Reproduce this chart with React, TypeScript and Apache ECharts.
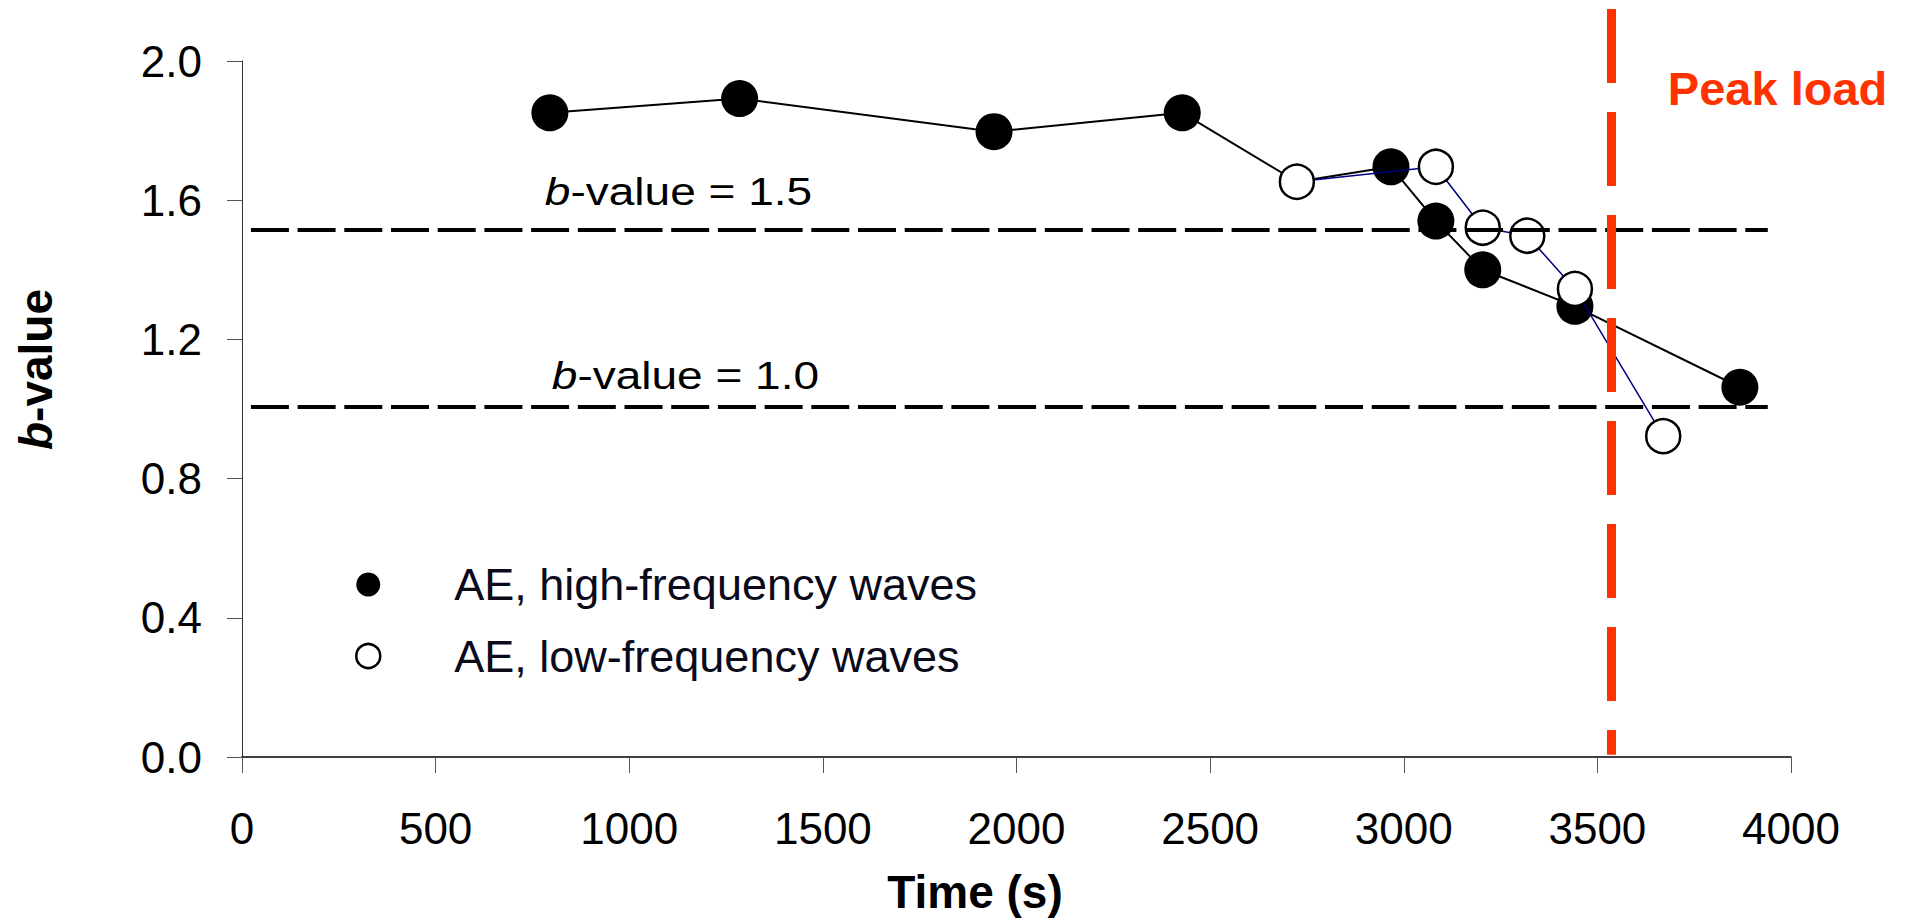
import React, { useEffect, useRef } from "react";
import * as echarts from "echarts";

// ---------- data ----------
const xMin = 0;
const xMax = 4000;
const xStep = 500;
const yMin = 0;
const yMax = 2.0;
const yStep = 0.4;

const seriesNames = ["AE, high-frequency waves", "AE, low-frequency waves"];

const highTime = [795, 1285, 1942, 2428, 2724, 2967, 3083, 3204, 3442, 3868];
const highB = [1.851, 1.892, 1.797, 1.851, 1.653, 1.696, 1.54, 1.4, 1.295, 1.0625];
const highHiddenIndex = 4; // vertex shared with the first open marker

const lowTime = [2724, 3083, 3204, 3319, 3442, 3670];
const lowB = [1.653, 1.696, 1.521, 1.498, 1.345, 0.922];

const thresholdB = [1.515, 1.006];
const thresholdText = ["1.5", "1.0"];
const thresholdSpan = [23, 3940];
const thresholdLabelAt = [
  [782, 1.627],
  [800, 1.096],
];

const peakTime = 3536;
const peakSpan = [2.148, 0.0095];
const peakText = "Peak load";
const peakLabelAt = [3682, 1.921];

// ---------- styling ----------
const FONT = "'Liberation Sans', Arial, Helvetica, sans-serif";

export default function App() {
  const ref = useRef<HTMLDivElement>(null);

  useEffect(() => {
    if (!ref.current) return;
    const chart = echarts.init(ref.current, undefined, { renderer: "svg" });

    const option: any = {
      animation: false,
      backgroundColor: "#ffffff",
      grid: [
        { left: 242, right: 117, top: 61, bottom: 162 },
        { left: 242, right: 58.9, top: 9, bottom: 162 },
      ],
      legend: {
        orient: "vertical",
        left: 350,
        top: 557,
        itemWidth: 24,
        itemHeight: 24,
        itemGap: 26.5,
        icon: "circle",
        selectedMode: false,
        textStyle: {
          fontFamily: FONT,
          fontSize: 45,
          color: "#0a0a1a",
          padding: [0, 0, 0, 69],
        },
        data: [
          { name: seriesNames[0], itemStyle: { color: "#000", borderWidth: 0 } },
          {
            name: seriesNames[1],
            itemStyle: { color: "#fff", borderColor: "#000", borderWidth: 2.5 },
          },
        ],
      },
      xAxis: [
        {
          type: "value",
          gridIndex: 0,
          min: xMin,
          max: xMax,
          interval: xStep,
          name: "Time (s)",
          nameLocation: "middle",
          nameGap: 112,
          nameTextStyle: {
            fontFamily: FONT,
            fontSize: 46,
            fontWeight: "bold",
            color: "#000",
            lineHeight: 46,
            padding: [0, 83, 0, 0],
          },
          axisLine: { show: true, lineStyle: { color: "#000", width: 1.5 } },
          axisTick: { show: true, length: 16, lineStyle: { color: "#555", width: 1 } },
          axisLabel: {
            fontFamily: FONT,
            fontSize: 44,
            lineHeight: 44,
            color: "#000",
            margin: 49,
            formatter: (v: number) => String(v),
          },
          splitLine: { show: false },
        },
        { type: "value", gridIndex: 1, min: 0, max: 4150, show: false },
      ],
      yAxis: [
        {
          type: "value",
          gridIndex: 0,
          min: yMin,
          max: yMax,
          interval: yStep,
          name: "{i|b}{n|-value}",
          nameLocation: "middle",
          nameRotate: 90,
          nameGap: 183,
          nameTextStyle: {
            padding: [0, 0, 0, 79],
            lineHeight: 46,
            rich: {
              i: {
                fontFamily: FONT,
                fontSize: 46,
                fontWeight: "bold",
                fontStyle: "italic",
                color: "#000",
                lineHeight: 46,
              },
              n: {
                fontFamily: FONT,
                fontSize: 46,
                fontWeight: "bold",
                color: "#000",
                lineHeight: 46,
              },
            },
          },
          axisLine: { show: true, lineStyle: { color: "#333", width: 1 } },
          axisTick: { show: true, length: 15, lineStyle: { color: "#555", width: 1 } },
          axisLabel: {
            fontFamily: FONT,
            fontSize: 44,
            color: "#000",
            margin: 40,
            formatter: (v: number) => v.toFixed(1),
          },
          splitLine: { show: false },
        },
        { type: "value", gridIndex: 1, min: 0, max: 2.148, show: false },
      ],
      series: [
        {
          name: seriesNames[0],
          type: "line",
          xAxisIndex: 0,
          yAxisIndex: 0,
          symbol: "circle",
          symbolSize: 37,
          z: 2,
          lineStyle: { color: "#000", width: 2 },
          itemStyle: { color: "#000" },
          emphasis: { disabled: true },
          data: highTime.map((t, i) =>
            i === highHiddenIndex
              ? { value: [t, highB[i]], symbol: "none" }
              : [t, highB[i]]
          ),
        },
        {
          name: seriesNames[1],
          type: "line",
          xAxisIndex: 0,
          yAxisIndex: 0,
          symbol: "circle",
          symbolSize: 34,
          z: 3,
          lineStyle: { color: "#000080", width: 1.5 },
          itemStyle: { color: "#fff", borderColor: "#000", borderWidth: 2.5 },
          emphasis: { disabled: true },
          data: lowTime.map((t, i) => [t, lowB[i]]),
        },
        {
          name: "marks",
          type: "line",
          xAxisIndex: 1,
          yAxisIndex: 1,
          data: [],
          z: 4,
          markLine: {
            silent: true,
            symbol: ["none", "none"],
            label: { show: false },
            emphasis: { disabled: true },
            data: [
              ...thresholdB.map((b) => [
                {
                  coord: [thresholdSpan[0], b],
                  lineStyle: { color: "#000", width: 4, type: [38, 8.7], cap: "butt" },
                },
                { coord: [thresholdSpan[1], b] },
              ]),
              [
                {
                  coord: [peakTime, peakSpan[0]],
                  lineStyle: { color: "#FF3300", width: 9, type: [74, 29], cap: "butt" },
                },
                { coord: [peakTime, peakSpan[1]] },
              ],
            ],
          },
        },
      ],
    };

    chart.setOption(option);

    const rich = (size: number) => ({
      i: { fontFamily: FONT, fontSize: size, fontStyle: "italic", fill: "#000" },
      r: { fontFamily: FONT, fontSize: size, fill: "#000" },
    });

    const graphics: any[] = thresholdText.map((t, i) => {
      const p = chart.convertToPixel({ gridIndex: 0 }, thresholdLabelAt[i]) as number[];
      return {
        type: "text",
        x: p[0],
        y: p[1],
        scaleX: 1.18,
        silent: true,
        style: {
          text: `{i|b}{r|-value = ${t}}`,
          rich: rich(39),
          fontFamily: FONT,
          fontSize: 39,
          fill: "#000",
          align: "left",
          verticalAlign: "middle",
        },
      };
    });
    const pp = chart.convertToPixel({ gridIndex: 0 }, peakLabelAt) as number[];
    graphics.push({
      type: "text",
      x: pp[0],
      y: pp[1],
      silent: true,
      style: {
        text: peakText,
        fontFamily: FONT,
        fontSize: 47,
        fontWeight: "bold",
        fill: "#FF3300",
        align: "left",
        verticalAlign: "middle",
      },
    });
    chart.setOption({ graphic: graphics });

    return () => chart.dispose();
  }, []);

  return (
    <div
      ref={ref}
      style={{
        position: "fixed",
        left: 0,
        top: 0,
        width: 1908,
        height: 920,
        background: "#fff",
      }}
    />
  );
}
